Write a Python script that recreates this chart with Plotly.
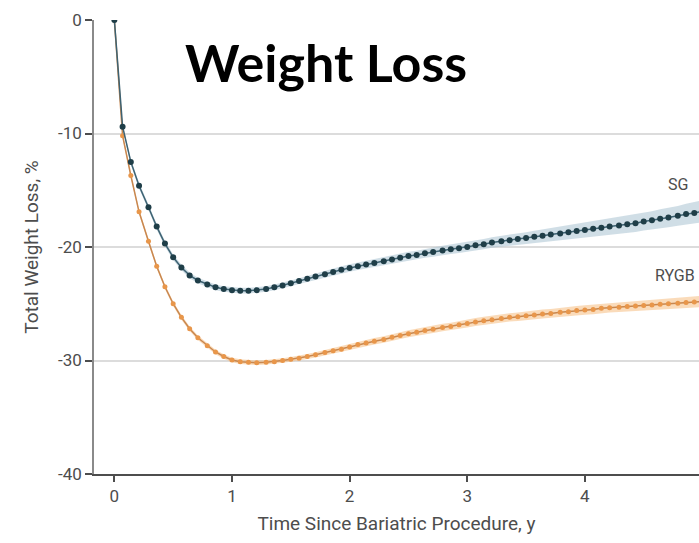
import plotly.graph_objects as go

# Time since procedure (years)
time_y = [0.00, 0.07, 0.14, 0.21, 0.29, 0.36, 0.43, 0.50, 0.57, 0.64, 0.71, 0.79, 0.86, 0.93,
          1.00, 1.07, 1.14, 1.21, 1.29, 1.36, 1.43, 1.50, 1.57, 1.64, 1.71, 1.79, 1.86, 1.93,
          2.00, 2.07, 2.14, 2.21, 2.29, 2.36, 2.43, 2.50, 2.57, 2.64, 2.71, 2.79, 2.86, 2.93,
          3.00, 3.07, 3.14, 3.21, 3.29, 3.36, 3.43, 3.50, 3.57, 3.64, 3.71, 3.79, 3.86, 3.93,
          4.00, 4.07, 4.14, 4.21, 4.29, 4.36, 4.43, 4.50, 4.57, 4.64, 4.71, 4.79, 4.86, 4.93,
          5.00]

sg_twl = [0.0, -9.4, -12.5, -14.6, -16.5, -18.2, -19.7, -20.9, -21.8, -22.5, -22.95, -23.3, -23.55, -23.7,
          -23.8, -23.85, -23.85, -23.8, -23.7, -23.55, -23.4, -23.2, -23.0, -22.8, -22.6, -22.4, -22.2, -22.0,
          -21.85, -21.7, -21.55, -21.4, -21.25, -21.1, -20.95, -20.8, -20.7, -20.55, -20.45, -20.3, -20.2, -20.1,
          -20.0, -19.85, -19.75, -19.6, -19.5, -19.4, -19.3, -19.2, -19.1, -19.0, -18.9, -18.8, -18.7, -18.6,
          -18.5, -18.4, -18.3, -18.2, -18.1, -18.0, -17.9, -17.75, -17.65, -17.5, -17.4, -17.25, -17.1, -17.0,
          -16.85]

sg_ci = [0.0, 0.2, 0.25, 0.25, 0.25, 0.25, 0.25, 0.25, 0.25, 0.25, 0.25, 0.25, 0.25, 0.25,
         0.25, 0.25, 0.25, 0.25, 0.25, 0.25, 0.25, 0.25, 0.25, 0.27, 0.28, 0.29, 0.3, 0.31,
         0.32, 0.33, 0.34, 0.35, 0.35, 0.36, 0.37, 0.38, 0.38, 0.39, 0.4, 0.4, 0.41, 0.42,
         0.43, 0.44, 0.45, 0.46, 0.47, 0.48, 0.5, 0.51, 0.53, 0.55, 0.57, 0.59, 0.61, 0.63,
         0.65, 0.67, 0.69, 0.71, 0.73, 0.75, 0.77, 0.79, 0.81, 0.83, 0.85, 0.87, 0.9, 0.93,
         0.96]

rygb_twl = [0.0, -10.2, -13.7, -16.9, -19.5, -21.7, -23.5, -25.0, -26.2, -27.2, -28.0, -28.7, -29.25, -29.65,
            -29.95, -30.1, -30.15, -30.2, -30.15, -30.1, -30.0, -29.9, -29.8, -29.65, -29.5, -29.3, -29.15, -29.0,
            -28.8, -28.6, -28.45, -28.3, -28.15, -27.95, -27.8, -27.65, -27.5, -27.35, -27.25, -27.1, -27.0, -26.85,
            -26.75, -26.6, -26.5, -26.4, -26.3, -26.2, -26.15, -26.05, -26.0, -25.9, -25.85, -25.75, -25.7, -25.6,
            -25.55, -25.5, -25.4, -25.35, -25.3, -25.25, -25.2, -25.15, -25.1, -25.05, -25.0, -24.95, -24.9, -24.85,
            -24.8]

rygb_ci = [0.0, 0.2, 0.2, 0.2, 0.2, 0.2, 0.2, 0.2, 0.2, 0.2, 0.2, 0.2, 0.2, 0.2,
           0.2, 0.2, 0.2, 0.2, 0.2, 0.2, 0.2, 0.2, 0.21, 0.22, 0.23, 0.24, 0.25, 0.26,
           0.27, 0.28, 0.28, 0.29, 0.29, 0.3, 0.3, 0.31, 0.31, 0.32, 0.32, 0.33, 0.33, 0.34,
           0.34, 0.35, 0.35, 0.36, 0.36, 0.37, 0.37, 0.38, 0.38, 0.39, 0.39, 0.4, 0.4, 0.41,
           0.41, 0.42, 0.42, 0.43, 0.43, 0.44, 0.44, 0.45, 0.45, 0.46, 0.46, 0.47, 0.48, 0.49,
           0.5]

x_ticks = [0, 1, 2, 3, 4, 5]
y_ticks = [0, -10, -20, -30, -40]
y_tick_labels = ["0", "-10", "-20", "-30", "-40"]

LBL = "Roboto, DejaVu Sans, sans-serif"
GRAY = "#4d4d4d"

fig = go.Figure()

def band(t, v, ci, fill):
    upper = [a + b for a, b in zip(v, ci)]
    lower = [a - b for a, b in zip(v, ci)]
    fig.add_trace(go.Scatter(x=t, y=upper, mode="lines", line=dict(width=0),
                             hoverinfo="skip", showlegend=False))
    fig.add_trace(go.Scatter(x=t, y=lower, mode="lines", line=dict(width=0),
                             fill="tonexty", fillcolor=fill, hoverinfo="skip", showlegend=False))

band(time_y, rygb_twl, rygb_ci, "rgba(245,190,130,0.55)")
band(time_y, sg_twl, sg_ci, "rgba(170,195,210,0.55)")

fig.add_trace(go.Scatter(x=time_y, y=rygb_twl, mode="lines+markers", name="RYGB",
                         line=dict(color="#c8874f", width=1.5),
                         marker=dict(color="#e8964a", size=5, symbol="circle"),
                         showlegend=False))
fig.add_trace(go.Scatter(x=time_y, y=sg_twl, mode="lines+markers", name="SG",
                         line=dict(color="#3d6272", width=1.5),
                         marker=dict(color="#1f3e48", size=6, symbol="circle"),
                         showlegend=False))

fig.add_annotation(x=4.89, y=-14.5, text="SG", showarrow=False, xanchor="right", yanchor="middle",
                   font=dict(family=LBL, size=16, color=GRAY))
fig.add_annotation(x=4.95, y=-22.5, text="RYGB", showarrow=False, xanchor="right", yanchor="middle",
                   font=dict(family=LBL, size=16, color=GRAY))
fig.add_annotation(xref="paper", yref="paper", x=0.147, y=0.98, text="<b>Weight Loss</b>",
                   showarrow=False, xanchor="left", yanchor="top",
                   font=dict(family="Lato, Open Sans, sans-serif", size=52, color="#000000"))

fig.update_layout(
    width=699, height=543,
    margin=dict(l=94, r=0, t=20, b=69),
    paper_bgcolor="white", plot_bgcolor="white",
    showlegend=False,
)
fig.update_xaxes(range=[-0.173, 4.97], tickvals=x_ticks, ticks="outside", ticklen=6,
                 tickwidth=1.5, tickcolor=GRAY, showline=True, linecolor=GRAY, linewidth=1.5,
                 showgrid=False, zeroline=False,
                 tickfont=dict(family=LBL, size=17, color=GRAY),
                 title=dict(text="Time Since Bariatric Procedure, y", standoff=12,
                            font=dict(family=LBL, size=19, color=GRAY)))
fig.update_yaxes(range=[-40, 0], tickvals=y_ticks, ticktext=y_tick_labels, ticks="outside", ticklen=7,
                 tickwidth=1.5, tickcolor=GRAY, showline=True, linecolor="#8a8a8a", linewidth=1.5,
                 showgrid=True, gridcolor="#dcdcdc", gridwidth=2, zeroline=False,
                 tickfont=dict(family=LBL, size=17, color=GRAY),
                 title=dict(text="Total Weight Loss, %", standoff=14,
                            font=dict(family=LBL, size=19, color=GRAY)))

fig.write_html("out.html")
